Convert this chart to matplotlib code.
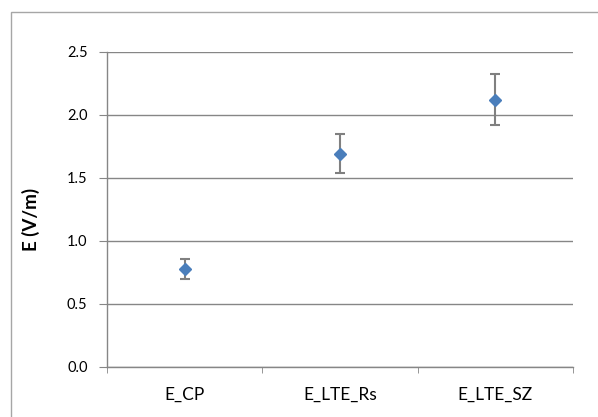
import numpy as np
import matplotlib
matplotlib.use('Agg')
import matplotlib.pyplot as plt
from matplotlib.patches import Rectangle

categories = ['E_CP', 'E_LTE_Rs', 'E_LTE_SZ']
means = [0.78, 1.69, 2.12]
errors = [0.08, 0.155, 0.205]

plt.rcParams['font.family'] = ['Lato', 'DejaVu Sans']

fig = plt.figure(figsize=(5.98, 4.17), dpi=100)
ax = fig.add_axes([0.179, 0.120, 0.779, 0.756])

# outer chart border (clipped by the figure edge)
fig.patches.append(Rectangle((10.5 / 598, -0.1), 1.2, 1.1 - 11.7 / 417,
                             transform=fig.transFigure, fill=False,
                             edgecolor='#a6a6a6', linewidth=1.0))

x = np.arange(len(categories))
ax.errorbar(x, means, yerr=errors, fmt='D', color='#4a7ebb', markersize=5.7,
            ecolor='#808080', elinewidth=1.5, capsize=3.6, capthick=1.5,
            zorder=3)

ax.set_xlim(-0.5, 2.5)
ax.set_ylim(0, 2.5)
ax.set_yticks(np.arange(0, 2.51, 0.5))
ax.set_yticklabels([f'{v:.1f}' for v in np.arange(0, 2.51, 0.5)])
ax.set_xticks(x)
ax.set_xticklabels(categories)
ax.set_xticks([-0.5, 0.5, 1.5, 2.5], minor=True)

ax.grid(axis='y', color='#868686', linewidth=1.0)
ax.set_axisbelow(True)
for s in ['top', 'right']:
    ax.spines[s].set_visible(False)
for s in ['left', 'bottom']:
    ax.spines[s].set_color('#868686')
    ax.spines[s].set_linewidth(1.0)

ax.tick_params(axis='y', length=6, color='#868686', pad=8, labelsize=10.5)
ax.tick_params(axis='x', which='major', length=0, pad=14, labelsize=12.5)
ax.tick_params(axis='x', which='minor', length=4, color='#868686')

ax.set_ylabel('E (V/m)', fontsize=13.5, fontweight='bold')
ax.yaxis.set_label_coords(-0.144, 0.467)

fig.savefig('out.png', dpi=100)
